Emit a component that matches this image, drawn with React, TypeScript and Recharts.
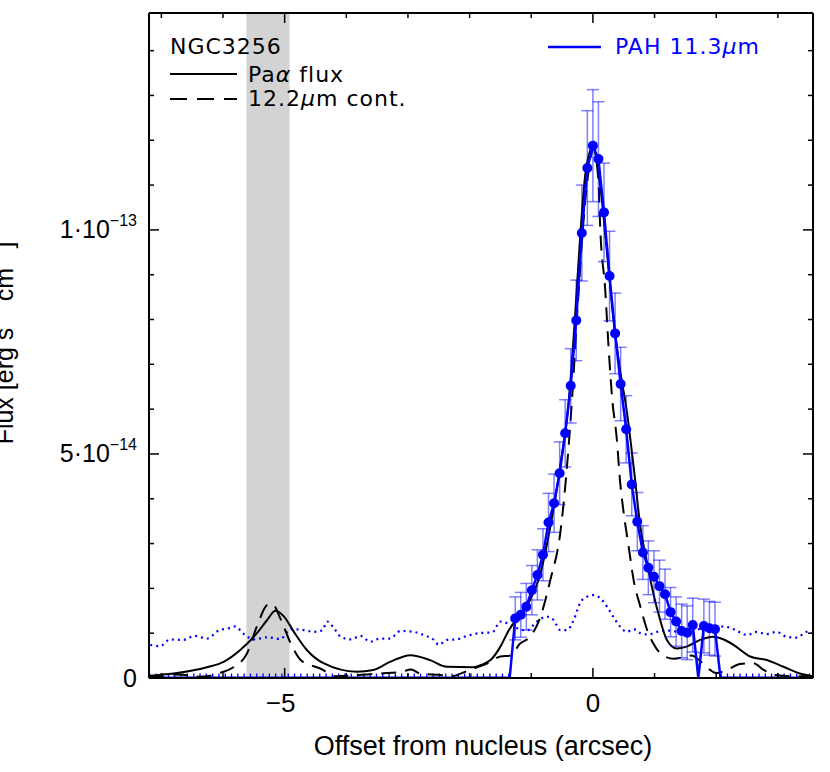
import React from 'react';
import { LineChart, Line, XAxis, YAxis, ErrorBar, ReferenceArea } from 'recharts';

// offsets in arcsec, fluxes in units of 1e-15 erg s^-1 cm^-2
const paOffset = [-7.2, -6.8, -6.26, -5.99, -5.72, -5.45, -5.28, -5.15, -5.01, -4.85, -4.64, -4.37, -3.83, -3.56, -3.29, -2.96, -2.64, -2.37, -1.94, -1.8, -1.66, -1.5, -1.37, -1.2, -1.02, -0.85, -0.69, -0.53, -0.39, -0.29, -0.21, -0.12, 0, 0.12, 0.23, 0.33, 0.44, 0.55, 0.66, 0.77, 0.88, 0.98, 1.09, 1.2, 1.36, 1.52, 1.74, 1.95, 2.1, 2.28, 2.55, 2.82, 3.09, 3.36, 3.57];
const paFlux = [0.5, 1.0, 2.4, 3.6, 6.25, 10, 13, 15, 13.7, 10.3, 6.25, 3.3, 1.4, 1.8, 3.6, 5.1, 4.0, 2.5, 2.4, 3.0, 4.0, 7, 10.5, 13.8, 17.4, 23.4, 33.8, 47.2, 62, 80.6, 97.8, 112.7, 118.6, 109.7, 94.8, 80.6, 68.8, 59.5, 47.2, 33.8, 25.6, 18.9, 13, 8.5, 6.6, 7, 8.5, 9.2, 8.7, 7.4, 4.8, 4.0, 2.5, 1.0, 0.4];

const contOffset = [-7.2, -6.95, -6.8, -6.65, -6.4, -6.2, -6.1, -5.99, -5.82, -5.61, -5.45, -5.28, -5.2, -5.07, -4.9, -4.74, -4.58, -4.39, -4.2, -3.95, -3.75, -3.45, -3.1, -2.95, -2.8, -2.5, -2.3, -2.0, -1.7, -1.5, -1.34, -1.18, -1.02, -0.85, -0.69, -0.53, -0.34, -0.26, -0.18, -0.09, 0.01, 0.09, 0.12, 0.2, 0.25, 0.31, 0.39, 0.44, 0.5, 0.58, 0.66, 0.77, 0.88, 0.98, 1.14, 1.31, 1.47, 1.6, 1.74, 1.9, 2.0, 2.17, 2.39, 2.6, 2.77, 2.93, 3.2, 3.57];
const contFlux = [0.3, 0.3, 0.8, 0.7, 0.3, 0.5, 1.0, 1.4, 2.5, 5.5, 11.5, 16.3, 16.5, 13.3, 7.7, 4.0, 2.9, 1.9, 0.4, 0.5, 0.7, 1.0, 1.4, 1.9, 1.0, 0.7, 0.4, 1.8, 3.3, 4.8, 5.0, 7.7, 9.2, 13.7, 21.9, 32.3, 62, 80, 97, 111, 118, 111, 100, 86.6, 74.8, 62.8, 53, 44, 36.8, 29.3, 21.9, 15.9, 10.7, 7.7, 5.0, 4.3, 4.6, 5.0, 3.8, 1.8, 1.1, 1.8, 3.1, 3.3, 1.8, 0.7, 0.4, 0.4];

const pahOffset = [-1.35, -1.26, -1.17, -1.08, -0.99, -0.9, -0.81, -0.72, -0.63, -0.54, -0.45, -0.36, -0.27, -0.18, -0.09, 0, 0.09, 0.18, 0.27, 0.36, 0.45, 0.54, 0.63, 0.72, 0.81, 0.9, 0.99, 1.08, 1.17, 1.26, 1.35, 1.44, 1.53, 1.62, 1.71, 1.8, 1.89, 1.98, 2.07];
const pahFlux = [0, 13.3, 14.1, 15.9, 19.6, 23, 27.5, 34.7, 39, 45.7, 54.6, 65.2, 79.8, 99.3, 113.8, 118.8, 115.8, 103.9, 89.7, 76.9, 65.6, 55.5, 43.2, 34.9, 28, 24.6, 22.6, 20.5, 18.7, 14.7, 12.6, 10.5, 10.1, 11.8, 0, 11.6, 11.1, 10.9, 0];
const pahErr = [0, 4.8, 5.0, 5.2, 5.5, 5.6, 5.8, 6.5, 6.5, 7, 7.5, 8.3, 9, 10.7, 12.8, 12.5, 12.8, 11, 10, 9, 8.2, 7.5, 7, 6.5, 6, 6, 5.8, 5.8, 5.6, 5.5, 5.5, 6, 6, 6, 0, 6, 6, 6, 0];

// zero-level stretches of the PAH profile
const pahBaseOffset = [-7.2, -1.35, 0, 2.07, 3.57];
const pahBaseFlux = [0, 0, null, 0, 0];

const dotOffset = [-7.18, -7.02, -6.86, -6.65, -6.45, -6.26, -6.07, -5.91, -5.8, -5.66, -5.5, -5.28, -5.07, -4.9, -4.69, -4.53, -4.39, -4.31, -4.2, -4.09, -3.93, -3.77, -3.61, -3.45, -3.29, -3.12, -2.91, -2.75, -2.58, -2.5, -2.37, -2.21, -2.04, -1.85, -1.63, -1.5, -1.39, -1.29, -1.07, -0.91, -0.75, -0.64, -0.53, -0.42, -0.31, -0.21, -0.1, 0.01, 0.12, 0.23, 0.33, 0.44, 0.55, 0.66, 0.77, 0.9, 1.04, 1.2, 1.41, 1.69, 1.9, 2.12, 2.28, 2.5, 2.66, 2.82, 2.98, 3.14, 3.31, 3.47, 3.57];
const dotFlux = [7.4, 7.1, 8.6, 8.5, 9.4, 8.8, 10.6, 11.1, 11.5, 9.8, 8.6, 9.1, 8.7, 10.9, 10.7, 10.3, 10.6, 12.6, 11.1, 9.2, 8.6, 9.4, 8.1, 8.8, 8.8, 10.5, 10.3, 9.6, 8.5, 7.4, 8.5, 8.6, 9.4, 10, 10.2, 12.6, 12.2, 11.5, 10.6, 12.6, 13.7, 13, 10.7, 10.7, 13, 16.7, 18.1, 18.5, 17.8, 15.9, 13.7, 11.5, 10.3, 10.9, 10, 9.7, 10.3, 10.6, 10.3, 10.9, 10.7, 11.5, 10.9, 9.6, 10.3, 9.8, 10.3, 9.2, 9.0, 10.3, 10.0];

const xDomain = [-7.2, 3.57];
const yDomain = [0, 148.4];
const xTicks = [-7, -6, -5, -4, -3, -2, -1, 0, 1, 2, 3];
const yTicks = [0, 10, 20, 30, 40, 50, 60, 70, 80, 90, 100, 110, 120, 130, 140];
const xTickLabels: Record<number, string> = { '-5': '\u22125', 0: '0' };
const yTickLabels: Record<number, [string, string]> = { 0: ['0', ''], 50: ['5\u00b710', '\u221214'], 100: ['1\u00b710', '\u221213'] };
const bandOffset = [-5.62, -4.92];

const paData = paOffset.map((x, i) => ({ x, flux: paFlux[i] }));
const contData = contOffset.map((x, i) => ({ x, flux: contFlux[i] }));
const pahData = pahOffset.map((x, i) => ({ x, flux: pahFlux[i], err: pahErr[i] }));
const pahBaseData = pahBaseOffset.map((x, i) => ({ x, flux: pahBaseFlux[i] }));
const dotData = dotOffset.map((x, i) => ({ x, flux: dotFlux[i] }));

const BLUE = '#0000ff';
const TICK_FONT = '"Liberation Sans", Arial, sans-serif';
const LEGEND_FONT = '"DejaVu Sans", sans-serif';

const BottomTick = (props: any) => {
  const { x, y, payload } = props;
  const label = xTickLabels[payload.value];
  return (
    <g>
      <line x1={x} y1={y} x2={x} y2={y - (label ? 10 : 5)} stroke="#000" strokeWidth={1.5} />
      {label && (
        <text x={payload.value < 0 ? x - 4 : x} y={y + 34} textAnchor="middle" fontSize={26} fontFamily={TICK_FONT} fill="#000">
          {label}
        </text>
      )}
    </g>
  );
};

const TopTick = (props: any) => {
  const { x, y, payload } = props;
  const major = xTickLabels[payload.value];
  return <line x1={x} y1={y} x2={x} y2={y + (major ? 10 : 5)} stroke="#000" strokeWidth={1.5} />;
};

const LeftTick = (props: any) => {
  const { x, y, payload } = props;
  const label = yTickLabels[payload.value];
  return (
    <g>
      <line x1={x} y1={y} x2={x + (label ? 10 : 5)} y2={y} stroke="#000" strokeWidth={1.5} />
      {label && (
        <text x={x - 12} y={y + 8.5} textAnchor="end" fontSize={25} fontFamily={TICK_FONT} fill="#000">
          {label[0]}
          {label[1] && (
            <tspan dy={-12} fontSize={16}>
              {label[1]}
            </tspan>
          )}
        </text>
      )}
    </g>
  );
};

const RightTick = (props: any) => {
  const { x, y, payload } = props;
  const major = yTickLabels[payload.value];
  return <line x1={x} y1={y} x2={x - (major ? 10 : 5)} y2={y} stroke="#000" strokeWidth={1.5} />;
};

const PahDot = (props: any) => {
  const { cx, cy, payload, index } = props;
  if (!(payload.flux > 0)) return <g key={`d${index}`} />;
  return <circle key={`d${index}`} cx={cx} cy={cy} r={5} fill={BLUE} />;
};

const axisLine = { stroke: '#000', strokeWidth: 2 };

export default function App() {
  return (
    <div style={{ position: 'absolute', left: 0, top: 0, width: 830, height: 772, background: '#fff' }}>
      <LineChart width={830} height={772} margin={{ top: 8, right: 12, bottom: 64, left: 119 }}>
        <XAxis
          type="number"
          dataKey="x"
          domain={xDomain}
          allowDataOverflow
          ticks={xTicks}
          interval={0}
          height={30}
          tickSize={0}
          tickMargin={0}
          tickLine={false}
          axisLine={axisLine}
          tick={<BottomTick />}
        />
        <XAxis
          xAxisId="top"
          orientation="top"
          type="number"
          dataKey="x"
          domain={xDomain}
          allowDataOverflow
          ticks={xTicks}
          interval={0}
          height={5}
          tickSize={0}
          tickMargin={0}
          tickLine={false}
          axisLine={axisLine}
          tick={<TopTick />}
        />
        <YAxis
          type="number"
          domain={yDomain}
          allowDataOverflow
          ticks={yTicks}
          interval={0}
          width={30}
          tickSize={0}
          tickMargin={0}
          tickLine={false}
          axisLine={axisLine}
          tick={<LeftTick />}
        />
        <YAxis
          yAxisId="right"
          orientation="right"
          type="number"
          domain={yDomain}
          allowDataOverflow
          ticks={yTicks}
          interval={0}
          width={5}
          tickSize={0}
          tickMargin={0}
          tickLine={false}
          axisLine={axisLine}
          tick={<RightTick />}
        />
        <ReferenceArea x1={bandOffset[0]} x2={bandOffset[1]} fill="#d3d3d3" fillOpacity={1} stroke="none" />
        <Line data={dotData} dataKey="flux" type="monotone" stroke={BLUE} strokeWidth={2.2} strokeDasharray="2 4" dot={false} isAnimationActive={false} />
        <Line data={pahBaseData} dataKey="flux" type="linear" stroke={BLUE} strokeWidth={3} dot={false} isAnimationActive={false} />
        <Line data={pahBaseData} dataKey="flux" type="linear" stroke={BLUE} strokeWidth={9} strokeDasharray="1.3 5" dot={false} isAnimationActive={false} />
        <Line data={contData} dataKey="flux" type="monotone" stroke="#000" strokeWidth={2} strokeDasharray="15 9" dot={false} isAnimationActive={false} />
        <Line data={paData} dataKey="flux" type="monotone" stroke="#000" strokeWidth={2} dot={false} isAnimationActive={false} />
        <Line data={pahData} dataKey="flux" type="linear" stroke={BLUE} strokeWidth={2.5} dot={<PahDot />} isAnimationActive={false}>
          <ErrorBar dataKey="err" width={6} stroke={BLUE} strokeOpacity={0.5} strokeWidth={1.5} direction="y" />
        </Line>
      </LineChart>
      <svg width={830} height={772} style={{ position: 'absolute', left: 0, top: 0, pointerEvents: 'none' }}>
        <text x={12.5} y={343} transform="rotate(-90 12.5 343)" textAnchor="middle" fontSize={25} fontFamily={TICK_FONT} fill="#000">
          Flux [erg s<tspan dy={-14} fontSize={17}>{'\u22121'}</tspan>
          <tspan dy={14}> cm</tspan>
          <tspan dy={-14} fontSize={17}>{'\u22122'}</tspan>
          <tspan dy={14}>]</tspan>
        </text>
        <text x={483} y={755} textAnchor="middle" fontSize={27} fontFamily={TICK_FONT} fill="#000">
          Offset from nucleus (arcsec)
        </text>
        <g fontFamily={LEGEND_FONT} fontSize={22} letterSpacing={1}>
          <text x={170} y={54} fill="#000">NGC3256</text>
          <line x1={170} y1={74} x2={237} y2={74} stroke="#000" strokeWidth={2} />
          <text x={248} y={82} fill="#000">
            Pa<tspan fontStyle="italic">α</tspan> flux
          </text>
          <line x1={170} y1={99} x2={237} y2={99} stroke="#000" strokeWidth={2} strokeDasharray="17 10" />
          <text x={248} y={106} fill="#000">
            12.2<tspan fontStyle="italic">μ</tspan>m cont.
          </text>
          <line x1={548} y1={47} x2={601} y2={47} stroke={BLUE} strokeWidth={2.5} />
          <text x={615} y={54} fill={BLUE}>
            PAH 11.3<tspan fontStyle="italic">μ</tspan>m
          </text>
        </g>
      </svg>
    </div>
  );
}
